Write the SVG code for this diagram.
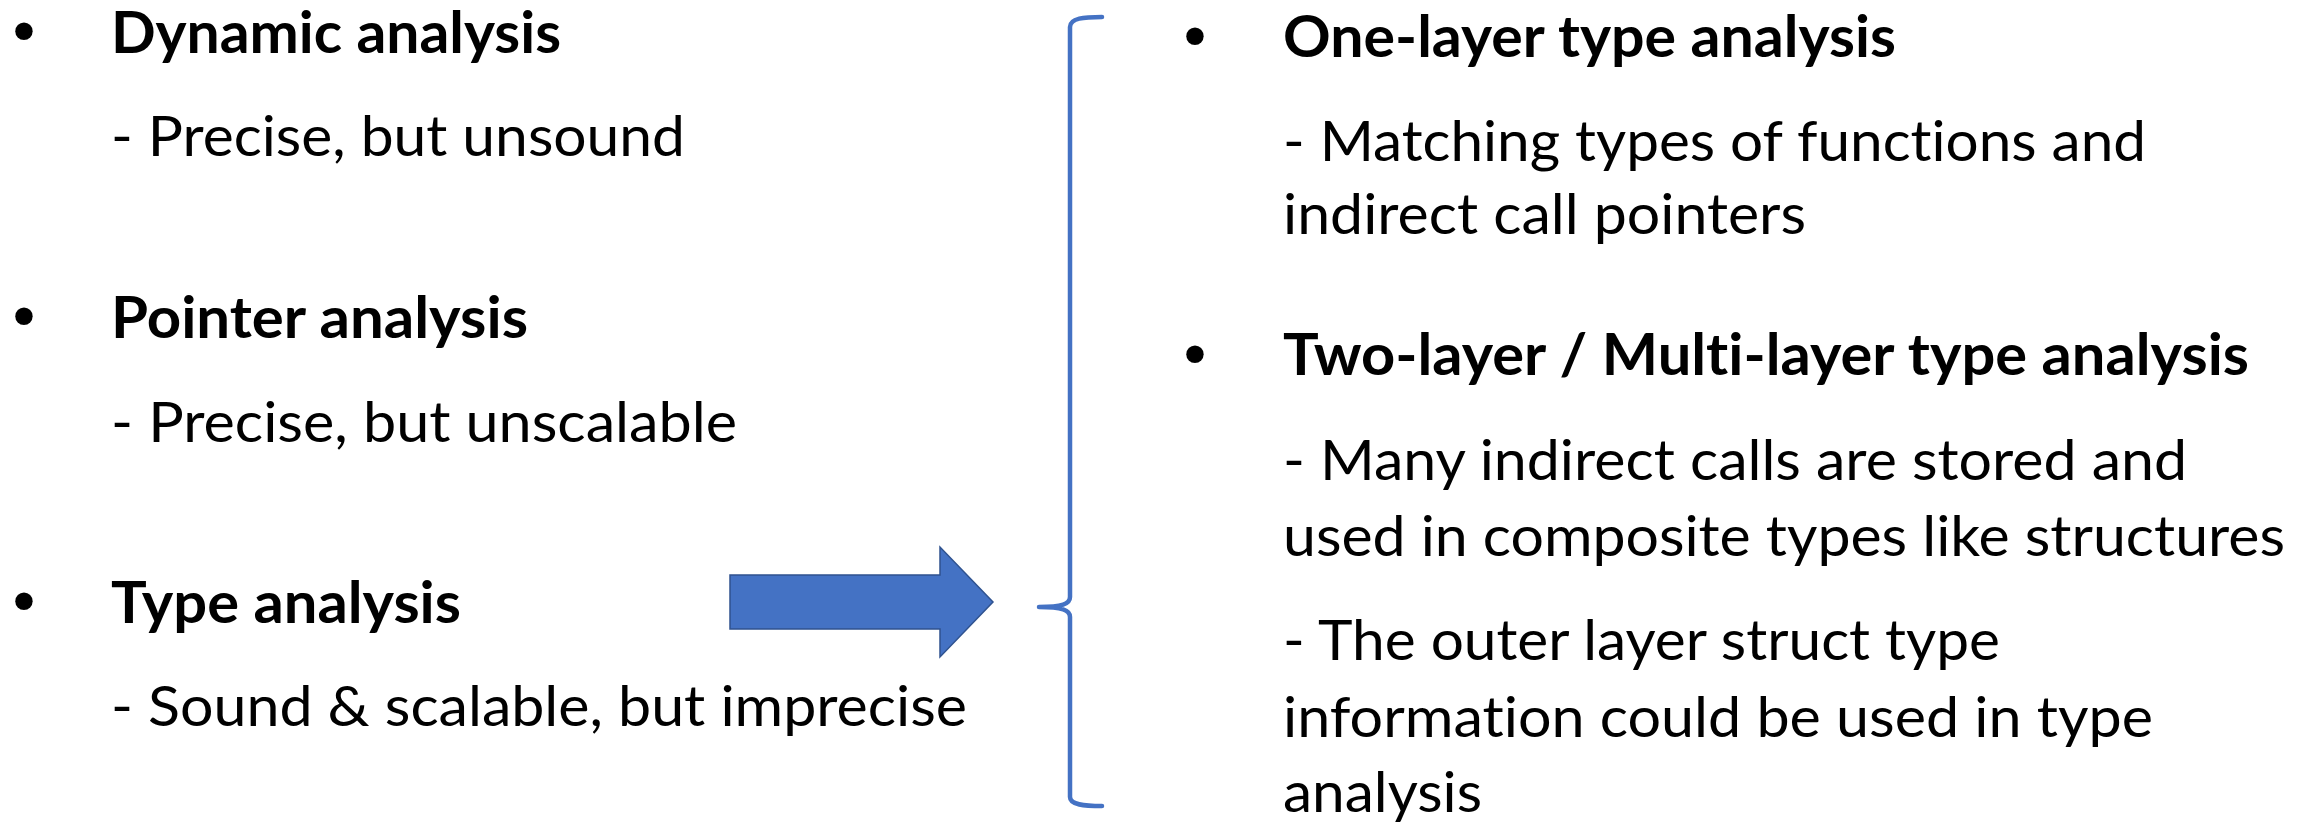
<svg xmlns="http://www.w3.org/2000/svg" width="2318" height="822" viewBox="0 0 2318 822">
  <style>
    .head { font-family: "Lato", "Open Sans", "Liberation Sans", sans-serif; font-weight: 700; font-size: 57px; fill: #000; font-variant-ligatures: none; }
    .body { font-family: "Lato", "Open Sans", "Liberation Sans", sans-serif; font-weight: 400; font-size: 57px; fill: #000; font-variant-ligatures: none; }
    .dot  { font-family: "DejaVu Sans", sans-serif; font-size: 60px; fill: #000; text-anchor: middle; }
    .brace { fill: none; stroke: #4472C4; stroke-width: 4.5; stroke-linecap: round; stroke-linejoin: round; }
    .arrow { fill: #4472C4; stroke: #2F528F; stroke-width: 1.5; }
  </style>
  <rect width="2318" height="822" fill="#fff"/>

  <!-- left column: three approaches -->
  <g id="dynamic-analysis">
    <text class="dot" x="24" y="54">•</text>
    <text class="head" x="111" y="53" textLength="450" lengthAdjust="spacingAndGlyphs">Dynamic analysis</text>
    <text class="body" x="111" y="156" textLength="574" lengthAdjust="spacingAndGlyphs">- Precise, but unsound</text>
  </g>
  <g id="pointer-analysis">
    <text class="dot" x="24" y="339">•</text>
    <text class="head" x="111" y="338" textLength="417" lengthAdjust="spacingAndGlyphs">Pointer analysis</text>
    <text class="body" x="111" y="442" textLength="626" lengthAdjust="spacingAndGlyphs">- Precise, but unscalable</text>
  </g>
  <g id="type-analysis">
    <text class="dot" x="24" y="624">•</text>
    <text class="head" x="111" y="623" textLength="350" lengthAdjust="spacingAndGlyphs">Type analysis</text>
    <text class="body" x="111" y="726" textLength="856" lengthAdjust="spacingAndGlyphs">- Sound &amp; scalable, but imprecise</text>
  </g>

  <!-- right column: refinements of type analysis -->
  <g id="one-layer">
    <text class="dot" x="1195" y="59">•</text>
    <text class="head" x="1283" y="57" textLength="613" lengthAdjust="spacingAndGlyphs">One-layer type analysis</text>
    <text class="body" x="1283" y="161" textLength="863" lengthAdjust="spacingAndGlyphs">- Matching types of functions and</text>
    <text class="body" x="1283" y="234" textLength="523" lengthAdjust="spacingAndGlyphs">indirect call pointers</text>
  </g>
  <g id="multi-layer">
    <text class="dot" x="1195" y="377">•</text>
    <text class="head" x="1283" y="375" textLength="966" lengthAdjust="spacingAndGlyphs">Two-layer / Multi-layer type analysis</text>
    <text class="body" x="1283" y="480" textLength="904" lengthAdjust="spacingAndGlyphs">- Many indirect calls are stored and</text>
    <text class="body" x="1283" y="556" textLength="1002" lengthAdjust="spacingAndGlyphs">used in composite types like structures</text>
    <text class="body" x="1283" y="660" textLength="717" lengthAdjust="spacingAndGlyphs">- The outer layer struct type</text>
    <text class="body" x="1283" y="737" textLength="870" lengthAdjust="spacingAndGlyphs">information could be used in type</text>
    <text class="body" x="1283" y="812" textLength="199" lengthAdjust="spacingAndGlyphs">analysis</text>
  </g>

  <!-- connectors: block arrow into the curly brace -->
  <g id="connectors">
    <path class="arrow" d="M730,575 L940,575 L940,547 L993,602 L940,657 L940,629 L730,629 Z"/>
    <path class="brace" d="M1102,17 C1084,17 1070,18 1070,27 L1070,597 C1070,604 1062,607 1039,607 C1062,607 1070,610 1070,617 L1070,797 C1070,805 1084,806 1102,806"/>
  </g>
</svg>
